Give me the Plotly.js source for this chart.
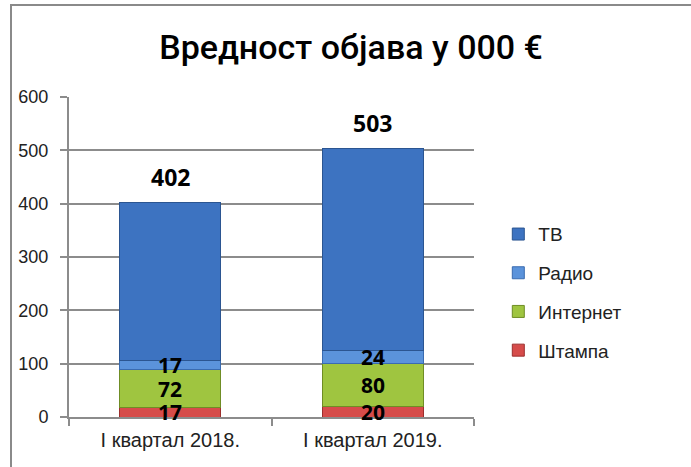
<!DOCTYPE html>
<html>
<head>
<meta charset="utf-8">
<script src="https://cdn.plot.ly/plotly-3.0.1.min.js"></script>
<style>
html,body{margin:0;padding:0;background:#fff;overflow:hidden;}
#chart{position:absolute;left:0;top:0;width:691px;height:467px;}
#frame{position:absolute;left:10px;top:4px;width:760px;height:560px;border:2px solid #8a8a8a;pointer-events:none;}
</style>
</head>
<body>
<div id="chart"></div>
<div id="frame"></div>
<script>
const categories = ["I квартал 2018.", "I квартал 2019."];
const seriesNames = ["Штампа", "Интернет", "Радио", "ТВ"];
const stampa = [17, 20];
const internet = [72, 80];
const radio = [17, 24];
const tv = [296, 379];
const totals = [402, 503];
const tickVals = [0, 100, 200, 300, 400, 500, 600];

const seriesValues = [stampa, internet, radio, tv];
const colors = ["#d64c4a", "#9fc540", "#5b93db", "#3d73c1"];
const lineColors = ["#9c2f2d", "#6f8d25", "#3a6bb0", "#2b5591"];
const showLabels = [true, true, true, false];

const traces = seriesNames.map((name, i) => ({
  type: "bar",
  name: name,
  x: categories,
  y: seriesValues[i],
  marker: {color: colors[i], line: {color: lineColors[i], width: 1}},
  legendgroup: name,
  legendrank: seriesNames.length - i,
  hoverinfo: "x+y+name"
}));

const annotations = [];
categories.forEach((cat, c) => {
  let base = 0;
  seriesValues.forEach((vals, i) => {
    const v = vals[c];
    if (showLabels[i]) {
      annotations.push({
        x: cat, y: base + v / 2, xref: "x", yref: "y",
        text: String(v), showarrow: false,
        font: {family: "Open Sans, sans-serif", size: 21, color: "#000", weight: 700},
        yanchor: "middle"
      });
    }
    base += v;
  });
  annotations.push({
    x: cat, y: totals[c], xref: "x", yref: "y",
    text: String(totals[c]), showarrow: false, yanchor: "bottom", yshift: 8,
    font: {family: "Open Sans, sans-serif", size: 23, color: "#000", weight: 700}
  });
});

const layout = {
  width: 691, height: 467,
  margin: {l: 69, r: 217, t: 97, b: 50},
  paper_bgcolor: "rgba(0,0,0,0)",
  plot_bgcolor: "#fff",
  barmode: "stack",
  bargap: 0.5,
  title: {
    text: "Вредност објава у 000 €",
    font: {family: "Roboto, sans-serif", size: 34, color: "#000", weight: 500},
    x: 0.508, xref: "container", xanchor: "center",
    y: 0.9, yref: "container", yanchor: "middle"
  },
  xaxis: {
    type: "category",
    showline: true, linecolor: "#8c8c8c", linewidth: 2,
    ticks: "outside", tickson: "boundaries", ticklen: 7, tickcolor: "#8c8c8c", tickwidth: 2,
    tickfont: {family: "Liberation Sans, sans-serif", size: 20, color: "#222"},
    ticklabelstandoff: 4,
    showgrid: false
  },
  yaxis: {
    range: [0, 600],
    tickvals: tickVals,
    showline: true, linecolor: "#8c8c8c", linewidth: 2,
    ticks: "outside", ticklen: 7, tickcolor: "#8c8c8c", tickwidth: 2,
    showgrid: true, gridcolor: "#8c8c8c", gridwidth: 2,
    zeroline: false,
    ticklabelstandoff: 8,
    tickfont: {family: "Liberation Sans, sans-serif", size: 18, color: "#222"}
  },
  legend: {
    x: 1.06, xanchor: "left", y: 0.39, yanchor: "middle",
    tracegroupgap: 11,
    font: {family: "Liberation Sans, sans-serif", size: 19, color: "#222"},
    bgcolor: "rgba(0,0,0,0)"
  },
  annotations: annotations,
  showlegend: true
};

Plotly.newPlot("chart", traces, layout, {displayModeBar: false, staticPlot: true});
</script>
</body>
</html>
